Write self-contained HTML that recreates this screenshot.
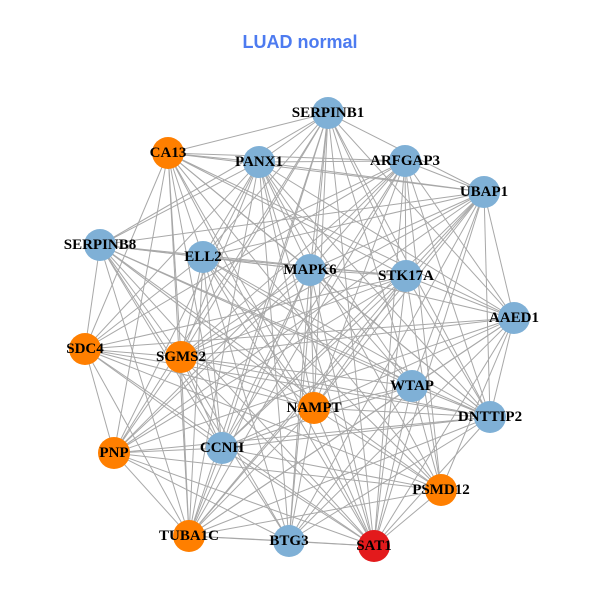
<!DOCTYPE html>
<html><head><meta charset="utf-8"><style>
html,body{margin:0;padding:0;background:#fff;}
svg{display:block;}
text.l{font-family:"Liberation Serif",serif;font-weight:bold;font-size:15px;fill:#000;text-anchor:middle;dominant-baseline:central;}
</style></head><body>
<svg id="s" width="600" height="600" viewBox="0 0 600 600">
<text x="300" y="42" text-anchor="middle" dominant-baseline="central" style="font-family:'Liberation Sans',sans-serif;font-weight:bold;font-size:18px;fill:#4d7bf0">LUAD normal</text>
<g id="edges" stroke="#a8a8a8" stroke-width="1"></g>
<g id="nodes"></g>
<g>
<text class="l" x="328" y="113">SERPINB1</text>
<text class="l" x="168" y="153">CA13</text>
<text class="l" x="259" y="162">PANX1</text>
<text class="l" x="405" y="161">ARFGAP3</text>
<text class="l" x="484" y="192">UBAP1</text>
<text class="l" x="100" y="245">SERPINB8</text>
<text class="l" x="203" y="257">ELL2</text>
<text class="l" x="310" y="270">MAPK6</text>
<text class="l" x="406" y="276">STK17A</text>
<text class="l" x="514" y="318">AAED1</text>
<text class="l" x="85" y="349">SDC4</text>
<text class="l" x="181" y="357">SGMS2</text>
<text class="l" x="412" y="386">WTAP</text>
<text class="l" x="314" y="408">NAMPT</text>
<text class="l" x="490" y="417">DNTTIP2</text>
<text class="l" x="222" y="448">CCNH</text>
<text class="l" x="114" y="453">PNP</text>
<text class="l" x="441" y="490">PSMD12</text>
<text class="l" x="189" y="536">TUBA1C</text>
<text class="l" x="289" y="541">BTG3</text>
<text class="l" x="374" y="546">SAT1</text>
</g>
</svg>
<script>
var B="#7fb0d6",O="#ff7f00",R="#e31a1c";
var N=[[328,113,B],[168,153,O],[259,162,B],[405,161,B],[484,192,B],[100,245,B],[203,257,B],[310,270,B],[406,276,B],[514,318,B],[85,349,O],[181,357,O],[412,386,B],[314,408,O],[490,417,B],[222,448,B],[114,453,O],[441,490,O],[189,536,O],[289,541,B],[374,546,R]];
var ns="http://www.w3.org/2000/svg",E=document.getElementById("edges"),G=document.getElementById("nodes");
var k=0;
for(var i=0;i<N.length;i++)for(var j=i+1;j<N.length;j++){k++;if(k%7==3)continue;
var l=document.createElementNS(ns,"line");l.setAttribute("x1",N[i][0]);l.setAttribute("y1",N[i][1]);l.setAttribute("x2",N[j][0]);l.setAttribute("y2",N[j][1]);E.appendChild(l);}
N.forEach(function(n){var c=document.createElementNS(ns,"circle");c.setAttribute("cx",n[0]);c.setAttribute("cy",n[1]);c.setAttribute("r",16);c.setAttribute("fill",n[2]);G.appendChild(c);});
</script>
</body></html>
